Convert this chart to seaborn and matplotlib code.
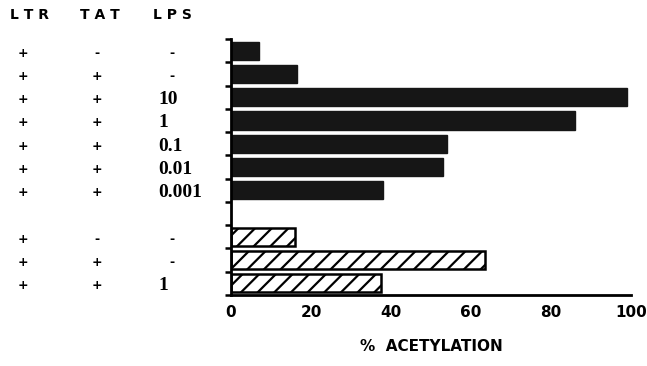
import numpy as np
import pandas as pd
import matplotlib
matplotlib.use("Agg")
import matplotlib.pyplot as plt
import matplotlib.transforms as mtrans
import seaborn as sns

# ---- data ----
rows = ["r1", "r2", "r3", "r4", "r5", "r6", "r7", "gap", "h1", "h2", "h3"]
ltr = ["+", "+", "+", "+", "+", "+", "+", "", "+", "+", "+"]
tat = ["-", "+", "+", "+", "+", "+", "+", "", "-", "+", "+"]
lps = ["-", "-", "10", "1", "0.1", "0.01", "0.001", "", "-", "-", "1"]
acetylation = [7, 16.5, 99, 86, 54, 53, 38, 0, 16, 63.5, 37.5]
group = ["solid"] * 7 + ["none"] + ["hatched"] * 3
xticks = [0, 20, 40, 60, 80, 100]

df = pd.DataFrame({"row": rows, "value": acetylation, "group": group})

sns.set_style("white")
plt.rcParams["font.family"] = ["DejaVu Sans"]
plt.rcParams["text.color"] = "black"
plt.rcParams["xtick.color"] = "black"
plt.rcParams["ytick.color"] = "black"
plt.rcParams["hatch.linewidth"] = 1.6

fig = plt.figure(figsize=(6.47, 3.66), dpi=100)
ax = fig.add_axes([0.357, 0.194, 0.618, 0.699])

sns.barplot(data=df, x="value", y="row", order=rows, orient="h",
            color="#161616", width=0.78, ax=ax, saturation=1)

for patch, g in zip(ax.patches, group):
    if g == "hatched":
        patch.set_facecolor("white")
        patch.set_edgecolor("black")
        patch.set_hatch("//")
        patch.set_linewidth(1.8)
    elif g == "none":
        patch.set_visible(False)
    else:
        patch.set_edgecolor("#161616")

ax.set_xlim(0, 100)
ax.set_ylim(len(rows) - 0.5, -0.5)
ax.set_yticks(np.arange(-0.5, len(rows), 1.0))
ax.set_yticklabels([])
ax.set_xticks(xticks)
ax.set_xticklabels([str(t) for t in xticks], fontsize=11, fontweight="bold")
ax.set_xticks(np.arange(10, 100, 20), minor=True)
ax.tick_params(axis="x", which="major", direction="out", length=5, width=1.8, pad=2)
ax.tick_params(axis="x", which="minor", direction="out", length=4, width=1.5)
ax.tick_params(axis="y", which="major", direction="out", length=4, width=1.8, left=True)
for s in ["top", "right"]:
    ax.spines[s].set_visible(False)
for s in ["left", "bottom"]:
    ax.spines[s].set_linewidth(2)
    ax.spines[s].set_color("black")
ax.set_ylabel("")
ax.set_xlabel("%  ACETYLATION", fontsize=11, fontweight="bold", labelpad=14,
              color="black")

# left-side condition table
tr = mtrans.blended_transform_factory(fig.transFigure, ax.transData)
fig.text(29 / 647, 1 - 15 / 366, "L T R", ha="center", va="center",
         fontsize=10, fontweight="bold")
fig.text(100 / 647, 1 - 15 / 366, "T A T", ha="center", va="center",
         fontsize=10, fontweight="bold")
fig.text(172 / 647, 1 - 15 / 366, "L P S", ha="center", va="center",
         fontsize=10, fontweight="bold")
for i in range(len(rows)):
    y = i + 0.1
    if ltr[i]:
        ax.text(23 / 647, y, ltr[i], transform=tr, ha="center", va="center",
                fontsize=9, fontweight="bold")
    if tat[i]:
        ax.text(97 / 647, y, tat[i], transform=tr, ha="center", va="center",
                fontsize=9, fontweight="bold")
    if lps[i] == "-":
        ax.text(172 / 647, y, "-", transform=tr, ha="center", va="center",
                fontsize=9, fontweight="bold")
    elif lps[i]:
        ax.text(158 / 647, y, lps[i], transform=tr, ha="left", va="center",
                fontsize=14, fontweight="bold", family=["Liberation Serif"])

fig.savefig("out.png", dpi=100)
